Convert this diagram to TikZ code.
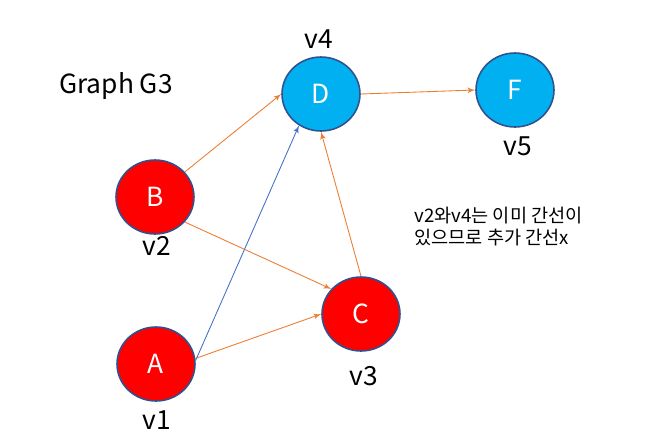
\documentclass[tikz,border=0pt]{standalone}
\usepackage{fontspec}
\setmainfont{Noto Sans CJK KR}
\usepackage{tikz}
\usetikzlibrary{shapes.geometric,arrows}
\definecolor{vred}{HTML}{FF0000}
\definecolor{vblue}{HTML}{00B0F0}
\definecolor{vrim}{HTML}{2F528F}
\definecolor{eorange}{HTML}{ED7D31}
\definecolor{eblue}{HTML}{4472C4}
\tikzstyle{vertex} = [draw=vrim, line width=0.9pt, ellipse, inner sep=0pt, minimum width=1.56cm, minimum height=1.48cm, text=white, font=\fontsize{15}{17}\selectfont]
\tikzstyle{redv} = [vertex, fill=vred]
\tikzstyle{bluev} = [vertex, fill=vblue]
\tikzstyle{tag} = [font=\fontsize{15}{17}\selectfont]
\tikzstyle{edge} = [->, draw=eorange, line width=0.5pt]

\begin{document}
\begin{tikzpicture}[x=0.02cm, y=-0.02cm, >=latex']
    \useasboundingbox (0,0) rectangle (656,444);
    \node [tag] (title) at (116,86) {Graph G3};
    \node [redv] (B) at (155,197) {B};
    \node [redv] (A) at (156,364) {A};
    \node [redv] (C) at (361,314) {C};
    \node [bluev] (D) at (321,94) {D};
    \node [bluev] (F) at (515,90) {F};
    \node [tag] (v1) at (157,420) {v1};
    \node [tag] (v2) at (157,246) {v2};
    \node [tag] (v3) at (364,376) {v3};
    \node [tag] (v4) at (319,39) {v4};
    \node [tag] (v5) at (518,146) {v5};
    \node [anchor=north west, align=left, inner sep=0pt, font=\fontsize{10.6}{12.5}\selectfont] (note) at (414,207) {v2와v4는 이미 간선이\\있으므로 추가 간선x};
    \draw [edge] (B.40) -- (D.west);
    \draw [edge] (B.-40) -- (C.140);
    \draw [edge] (A.8) -- (C.west);
    \draw [->, draw=eblue, line width=0.5pt] (A.5) -- (D.235);
    \draw [edge] (C.north) -- (D.south);
    \draw [edge] (D.east) -- (F.west);
  \end{tikzpicture}
\end{document}
